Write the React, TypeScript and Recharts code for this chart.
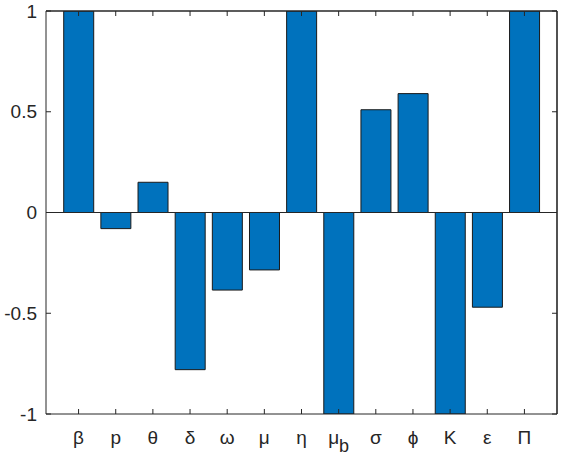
import { Bar, BarChart, XAxis, YAxis, ReferenceLine } from "recharts";

const params = ["β", "p", "θ", "δ", "ω", "μ", "η", "μ_b", "σ", "ϕ", "K", "ε", "Π"];
const sensitivity = [1, -0.08, 0.15, -0.78, -0.385, -0.285, 1, -1, 0.51, 0.59, -1, -0.47, 1];
const yTicks = [-1, -0.5, 0, 0.5, 1];

const data = params.map((p, i) => ({ name: p, value: sensitivity[i] }));

const AXIS = "#262626";
const FONT = "'Liberation Sans', Arial, sans-serif";
const TICK_LEN = 5;

function BottomTick({ x, y, payload }: any) {
  const v: string = payload.value;
  const [main, sub] = v.split("_");
  return (
    <g>
      <line x1={x} y1={y} x2={x} y2={y - TICK_LEN} stroke={AXIS} strokeWidth={1} />
      <text x={x} y={y + 23} dy="0.35em" textAnchor="middle" fontFamily={FONT} fontSize={19} fill={AXIS}>
        {main}
        {sub && (
          <tspan dy={8} fontSize={18}>
            {sub}
          </tspan>
        )}
      </text>
    </g>
  );
}

function TopTick({ x, y }: any) {
  return <line x1={x} y1={y} x2={x} y2={y + TICK_LEN} stroke={AXIS} strokeWidth={1} />;
}

function LeftTick({ x, y, payload }: any) {
  return (
    <g>
      <line x1={x + 9} y1={y} x2={x + 9 + TICK_LEN} y2={y} stroke={AXIS} strokeWidth={1} />
      <text x={x} y={y} dy="0.35em" textAnchor="end" fontFamily={FONT} fontSize={19} fill={AXIS}>
        {String(payload.value)}
      </text>
    </g>
  );
}

function RightTick({ x, y }: any) {
  return <line x1={x} y1={y} x2={x - TICK_LEN} y2={y} stroke={AXIS} strokeWidth={1} />;
}

export default function App() {
  return (
    <div style={{ position: "absolute", left: 0, top: 0, width: 562, height: 456, background: "#fff" }}>
      <BarChart
        width={562}
        height={456}
        data={data}
        margin={{ top: 10, right: 4, bottom: 0, left: 0 }}
        barCategoryGap="10%"
      >
        <XAxis
          xAxisId="b"
          dataKey="name"
          orientation="bottom"
          height={42}
          interval={0}
          padding={{ left: 14, right: 14 }}
          tickSize={0}
          tickMargin={0}
          tickLine={false}
          axisLine={{ stroke: AXIS, strokeWidth: 1 }}
          tick={<BottomTick />}
        />
        <XAxis
          xAxisId="t"
          dataKey="name"
          orientation="top"
          height={1}
          interval={0}
          padding={{ left: 14, right: 14 }}
          tickSize={0}
          tickMargin={0}
          tickLine={false}
          axisLine={{ stroke: AXIS, strokeWidth: 1.6 }}
          tick={<TopTick />}
        />
        <YAxis
          yAxisId="l"
          orientation="left"
          width={46}
          domain={[-1, 1]}
          ticks={yTicks}
          allowDataOverflow
          tickSize={0}
          tickMargin={9}
          tickLine={false}
          axisLine={{ stroke: AXIS, strokeWidth: 1 }}
          tick={<LeftTick />}
        />
        <YAxis
          yAxisId="r"
          orientation="right"
          width={1}
          domain={[-1, 1]}
          ticks={yTicks}
          allowDataOverflow
          tickSize={0}
          tickMargin={0}
          tickLine={false}
          axisLine={{ stroke: AXIS, strokeWidth: 1.6 }}
          tick={<RightTick />}
        />
        <Bar
          xAxisId="b"
          yAxisId="l"
          dataKey="value"
          fill="#0072BD"
          stroke="#1a1a1a"
          strokeWidth={1}
          isAnimationActive={false}
        />
        <ReferenceLine xAxisId="b" yAxisId="l" y={0} stroke={AXIS} strokeWidth={1} />
      </BarChart>
    </div>
  );
}
